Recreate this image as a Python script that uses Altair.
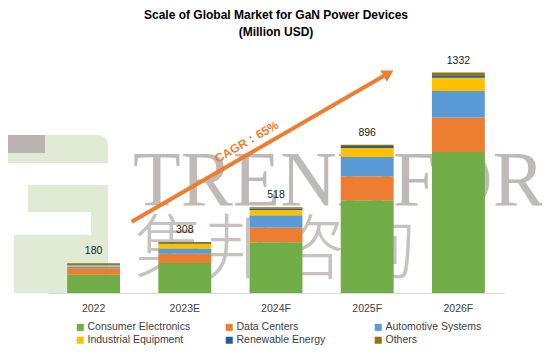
import altair as alt
import pandas as pd

years = ["2022", "2023E", "2024F", "2025F", "2026F"]
segments = ["Consumer Electronics", "Data Centers", "Automotive Systems",
            "Industrial Equipment", "Renewable Energy", "Others"]
colors = ["#70AD47", "#ED7D31", "#5B9BD5", "#FFC000", "#255E91", "#997300"]

consumer = [110, 181, 306, 560, 852]
data_centers = [40, 56, 88, 145, 208]
automotive = [10, 32, 76, 117, 161]
industrial = [8, 27, 32, 54, 79]
renewable = [6, 5, 8, 12, 16]
others = [6, 7, 8, 8, 16]

title_lines = ["Scale of Global Market for GaN Power Devices", "(Million USD)"]
cagr_label = "CAGR：65%"

series = [consumer, data_centers, automotive, industrial, renewable, others]
rows = []
for si, (name, vals) in enumerate(zip(segments, series)):
    for y, v in zip(years, vals):
        rows.append({"year": y, "segment": name, "idx": si, "value": v})
df = pd.DataFrame(rows)

one = pd.DataFrame({"d": [0]})
FONT = "Liberation Sans"

yscale = alt.Scale(domain=[0, 1468], nice=False)
xscale = alt.Scale(domain=years, paddingInner=0.42, paddingOuter=0.21)

# watermark logo panel
panel = alt.Chart(one).mark_rect(color="#e0ead5", cornerRadiusTopRight=10).encode(
    x=alt.value(-40), x2=alt.value(60), y=alt.value(85), y2=alt.value(243))
gray_bar = alt.Chart(one).mark_rect(color="#b9b4b1").encode(
    x=alt.value(-40), x2=alt.value(-3), y=alt.value(85), y2=alt.value(103))
white1 = alt.Chart(one).mark_rect(color="white").encode(
    x=alt.value(-40), x2=alt.value(60), y=alt.value(113), y2=alt.value(135))
white2 = alt.Chart(one).mark_rect(color="white").encode(
    x=alt.value(-40), x2=alt.value(-20), y=alt.value(135), y2=alt.value(162))
white3 = alt.Chart(one).mark_rect(color="white").encode(
    x=alt.value(-40), x2=alt.value(43), y=alt.value(162), y2=alt.value(185))
white4 = alt.Chart(one).mark_rect(color="white").encode(
    x=alt.value(-40), x2=alt.value(-34), y=alt.value(185), y2=alt.value(243))

wm_en = alt.Chart(one).mark_text(
    text="TRENDFORCE", font="Liberation Serif", fontSize=78, color="#bfbab7",
    align="left", baseline="alphabetic").encode(x=alt.value(85), y=alt.value(155))
wm_cn = alt.Chart(one).mark_text(
    text="集邦咨询", font="Noto Sans CJK SC", fontSize=70, fontWeight=300, color="#c6c2bf",
    align="left", baseline="top").encode(x=alt.value(87), y=alt.value(168))

bars = alt.Chart(df).mark_bar().encode(
    x=alt.X("year:N", scale=xscale, sort=years,
            axis=alt.Axis(title=None, labelAngle=0, ticks=False, domainColor="#d9d9d9",
                          labelPadding=10, labelFontSize=10.5, labelColor="#404040",
                          labelFont=FONT)),
    y=alt.Y("value:Q", stack="zero", scale=yscale, axis=None),
    color=alt.Color("segment:N", scale=alt.Scale(domain=segments, range=colors),
                    legend=alt.Legend(title=None, orient="none", legendX=27, legendY=272,
                                      direction="horizontal", columns=3, gridAlign="all",
                                      columnPadding=33, rowPadding=2, symbolType="square",
                                      symbolSize=49, symbolStrokeWidth=0, labelFontSize=10.5,
                                      labelOffset=2, labelColor="#404040", labelFont=FONT,
                                      padding=0)),
    order=alt.Order("idx:Q", sort="ascending"),
)

totals = alt.Chart(df).transform_aggregate(
    total="sum(value)", groupby=["year"]
).mark_text(baseline="bottom", dy=-7, fontSize=10.5, font=FONT, color="#1a1a1a").encode(
    x=alt.X("year:N", scale=xscale, sort=years),
    y=alt.Y("total:Q", scale=yscale),
    text=alt.Text("total:Q"),
)

arrow_line = alt.Chart(one).mark_rule(color="#ED7D31", strokeWidth=4).encode(
    x=alt.value(83.7), y=alt.value(171.7), x2=alt.value(340), y2=alt.value(23.5))
arrow_head = alt.Chart(one).mark_point(
    shape="triangle-up", filled=True, color="#ED7D31", opacity=1, size=170, angle=60
).encode(x=alt.value(340.5), y=alt.value(23.3))
cagr = alt.Chart(one).mark_text(
    text=cagr_label, font=FONT, fontSize=12, fontWeight="bold", color="#ED7D31",
    angle=330, align="center", baseline="middle").encode(x=alt.value(198.7), y=alt.value(91.7))

chart = alt.layer(
    panel, gray_bar, white1, white2, white3, white4, wm_en, wm_cn,
    bars, totals, arrow_line, arrow_head, cagr
).properties(
    width=456, height=243,
    padding={"left": 40, "top": 42, "right": 38, "bottom": 56},
    autosize=alt.AutoSizeParams(type="none"),
    title=alt.TitleParams(title_lines, fontSize=12, fontWeight="bold", font=FONT,
                          anchor="middle", offset=11, lineHeight=17, color="#000000"),
).configure_view(stroke=None)

chart.save("out.html", embed_options={"renderer": "svg", "actions": False})
